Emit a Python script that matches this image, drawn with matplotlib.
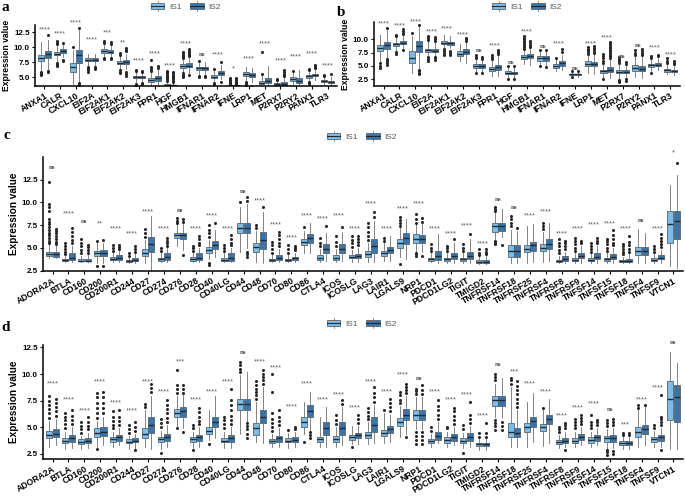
import numpy as np
import matplotlib
matplotlib.use('Agg')
import matplotlib.pyplot as plt
from matplotlib.legend_handler import HandlerBase
from matplotlib.patches import Rectangle, Patch
from matplotlib.lines import Line2D

plt.rcParams['font.family'] = ['Liberation Sans', 'DejaVu Sans']

genes_ab = ['ANXA1', 'CALR', 'CXCL10', 'EIF2A', 'EIF2AK1', 'EIF2AK2', 'EIF2AK3', 'FPR1', 'HGF',
            'HMGB1', 'IFNAR1', 'IFNAR2', 'IFNE', 'LRP1', 'MET', 'P2RX7', 'P2RY2', 'PANX1', 'TLR3']
genes_cd = ['ADORA2A', 'BTLA', 'CD160', 'CD200', 'CD200R1', 'CD244', 'CD27', 'CD274', 'CD276', 'CD28',
            'CD40', 'CD40LG', 'CD44', 'CD48', 'CD70', 'CD80', 'CD86', 'CTLA4', 'ICOS', 'ICOSLG',
            'LAG3', 'LAIR1', 'LGALS9', 'NRP1', 'PDCD1', 'PDCD1LG2', 'TIGIT', 'TMIGD2', 'TNFRSF14', 'TNFRSF18',
            'TNFRSF25', 'TNFRSF4', 'TNFRSF8', 'TNFRSF9', 'TNFSF14', 'TNFSF15', 'TNFSF18', 'TNFSF4', 'TNFSF9', 'VTCN1']

# box stats per gene: (lower whisker, q1, median, q3, upper whisker)
# ---- panel a ----
a_is1 = [(6.2, 7.6, 8.2, 8.7, 10.9), (7.6, 8.6, 8.9, 9.2, 10.3), (3.8, 5.9, 6.7, 7.4, 9.5),
         (6.9, 7.6, 7.9, 8.1, 8.9), (8.4, 9.0, 9.3, 9.6, 10.4), (6.4, 7.1, 7.4, 7.7, 8.5),
         (4.2, 4.8, 5.0, 5.25, 5.8), (3.6, 4.2, 4.5, 4.8, 5.7), (3.5, 3.65, 3.75, 3.85, 4.2),
         (5.8, 6.5, 6.8, 7.1, 7.9), (5.5, 6.2, 6.45, 6.7, 7.4), (4.2, 4.8, 5.0, 5.3, 6.0),
         (3.45, 3.5, 3.55, 3.6, 3.7), (4.5, 5.2, 5.5, 5.8, 6.6), (3.4, 3.8, 4.05, 4.4, 5.3),
         (3.4, 3.65, 3.8, 3.95, 4.3), (3.6, 4.4, 4.7, 5.0, 5.8), (4.4, 4.9, 5.1, 5.3, 5.9),
         (3.7, 4.1, 4.3, 4.5, 5.0)]
a_is2 = [(6.3, 8.1, 8.8, 9.3, 11.1), (8.3, 9.0, 9.3, 9.6, 10.5), (4.2, 7.3, 8.6, 9.5, 12.9),
         (7.0, 7.6, 7.85, 8.1, 8.9), (8.5, 9.0, 9.25, 9.5, 10.2), (6.3, 7.2, 7.5, 7.9, 8.9),
         (4.3, 4.8, 5.0, 5.2, 5.6), (3.6, 4.4, 4.8, 5.1, 6.3), (3.45, 3.55, 3.65, 3.75, 4.0),
         (5.7, 6.6, 6.9, 7.3, 8.3), (5.4, 6.2, 6.45, 6.7, 7.5), (4.6, 5.3, 5.6, 6.0, 7.0),
         (3.45, 3.5, 3.55, 3.6, 3.7), (4.1, 5.0, 5.3, 5.6, 6.5), (3.3, 4.0, 4.4, 4.9, 6.8),
         (3.4, 3.7, 3.9, 4.2, 4.8), (3.4, 4.0, 4.4, 4.8, 6.1), (4.5, 5.1, 5.3, 5.5, 6.2),
         (3.6, 4.0, 4.2, 4.4, 5.0)]
a_is1_out = [[5.3, 5.5, 5.7, 5.9], [6.8, 7.0, 7.2, 7.4, 10.5, 10.7, 11.0], [10.0],
             [5.9, 6.1, 6.3, 6.5, 6.7], [8.0, 8.2, 10.6, 10.8, 11.0], [5.7, 5.9, 6.1, 8.7, 9.0],
             [3.3, 3.5, 3.7, 3.9, 6.0, 6.2], [6.0, 6.3, 6.6, 7.8],
             [4.4, 4.6, 4.8, 5.0, 5.2, 5.4, 5.6, 5.8, 6.0],
             [5.0, 5.2, 5.4, 5.6, 8.1, 8.3, 8.5, 8.7, 9.0, 9.2], [5.0, 5.2, 7.6], [3.8, 4.0, 6.3],
             [3.85, 4.0, 4.15, 4.3, 4.45, 4.6, 4.75, 4.9], [3.6, 3.8, 4.0, 4.2], [5.5, 9.2],
             [4.5, 4.7], [6.0], [3.8, 4.0, 4.2, 6.1, 6.3], [5.2, 5.4]]
a_is2_out = [[5.8, 6.0, 12.0], [7.6, 7.9, 10.7], [3.3, 3.5, 3.7, 3.9, 4.05, 13.1],
             [6.3, 6.5, 6.7], [8.0, 8.2, 10.5, 10.8], [5.2, 5.5, 5.8, 9.3, 9.5, 9.8],
             [3.8, 4.0, 5.8, 6.0], [6.5, 6.8], [4.2, 4.4, 4.6, 4.8, 5.0, 5.2, 5.4, 5.6, 5.9],
             [5.3, 8.5, 8.7, 8.9, 9.1, 9.3, 9.6], [5.0, 5.2], [4.2, 7.5],
             [3.85, 4.0, 4.15, 4.3, 4.45, 4.6, 4.75, 4.9], [3.3], [],
             [5.1, 5.3, 5.5, 5.8, 6.2], [], [6.5, 6.7, 7.0], [5.5]]
a_sig = ['****', '****', '****', '****', '***', '**', '****', '****', '****', '****',
         'ns', '****', '*', '****', '****', '****', '****', '****', '****']
a_sig_y = [12.8, 12.2, 14.0, 11.2, 12.3, 10.7, 7.7, 8.9, 6.8, 10.5,
           8.8, 8.7, 6.3, 8.1, 10.5, 7.7, 8.3, 8.9, 6.8]

# ---- panel b ----
b_is1 = [(6.0, 7.7, 8.3, 8.9, 10.8), (7.9, 8.7, 9.0, 9.3, 10.3), (3.6, 5.6, 6.4, 7.7, 10.6),
         (6.8, 7.6, 7.9, 8.2, 9.6), (8.3, 9.0, 9.3, 9.6, 10.7), (5.9, 6.9, 7.3, 7.7, 9.0),
         (3.9, 4.65, 5.0, 5.3, 6.2), (3.2, 4.0, 4.4, 4.75, 5.9), (2.8, 3.4, 3.7, 4.0, 4.7),
         (5.3, 6.3, 6.7, 7.0, 8.0), (5.3, 6.0, 6.4, 6.8, 7.6), (4.1, 4.65, 5.0, 5.35, 6.2),
         (3.0, 3.35, 3.45, 3.55, 3.9), (3.6, 5.0, 5.4, 5.9, 7.0), (2.8, 3.7, 4.0, 4.3, 5.3),
         (2.6, 3.6, 3.9, 4.2, 5.2), (2.9, 4.1, 4.6, 5.1, 6.8), (4.0, 4.8, 5.1, 5.4, 6.2),
         (3.4, 3.9, 4.2, 4.5, 5.3)]
b_is2 = [(6.5, 8.2, 8.9, 9.4, 11.9), (8.4, 9.0, 9.35, 9.7, 10.6), (4.5, 7.6, 8.8, 9.6, 12.4),
         (6.9, 7.55, 7.85, 8.15, 9.4), (8.3, 8.95, 9.25, 9.55, 10.6), (5.6, 7.2, 7.6, 8.1, 9.4),
         (3.9, 4.7, 5.0, 5.3, 6.0), (3.1, 4.3, 4.8, 5.2, 6.9), (2.7, 3.4, 3.65, 3.95, 4.6),
         (5.2, 6.45, 6.85, 7.25, 8.3), (5.2, 6.0, 6.4, 6.8, 7.6), (4.2, 5.0, 5.5, 5.9, 7.1),
         (3.0, 3.35, 3.45, 3.55, 3.9), (3.5, 4.9, 5.3, 5.8, 7.2), (2.7, 3.8, 4.3, 4.8, 6.2),
         (2.7, 3.6, 3.9, 4.2, 5.1), (2.8, 4.0, 4.5, 5.0, 6.7), (4.2, 4.9, 5.25, 5.6, 6.5),
         (3.3, 3.8, 4.05, 4.3, 5.0)]
b_is1_out = [[4.6, 5.0, 5.5], [7.3, 7.6, 10.5, 10.8], [11.1], [6.0, 6.3, 6.6, 9.8, 10.2, 10.6],
             [7.0, 7.4, 7.8, 8.1], [], [3.7, 6.4, 6.7, 7.0], [6.2, 6.6, 7.0], [2.6, 5.0],
             [8.2, 8.5, 8.8, 9.1, 9.4, 9.7, 10.0, 10.3, 10.6], [4.9, 8.0], [6.4], [2.9, 4.1],
             [7.3, 7.6, 7.9, 8.2, 8.5], [2.5, 5.6, 6.0, 6.4, 6.8, 7.2],
             [2.0, 2.2, 2.4, 5.5, 5.9, 6.3, 6.7], [7.1, 7.5, 7.9], [3.7, 6.5, 6.8], [5.6, 6.0, 6.4]]
b_is2_out = [[5.2, 5.6, 6.0, 6.3, 12.1], [8.0, 10.9, 11.2, 11.5, 11.8], [3.4, 3.7, 4.0, 4.3, 12.6],
             [6.1, 6.4, 6.7, 9.7, 10.0, 10.4], [7.0, 7.4, 7.8], [9.7, 10.0, 10.3], [3.7, 6.3, 6.6],
             [7.3, 7.6, 8.0], [2.5, 4.9], [8.6, 8.9, 9.2, 9.6], [4.8, 8.0], [7.6, 8.1], [4.1],
             [7.5, 7.8, 8.1, 8.4, 8.7], [6.5, 6.8, 7.1, 7.4, 7.7, 8.0, 8.3, 8.6, 8.9, 9.2, 9.5],
             [2.2, 2.5, 5.4, 5.8], [7.0, 7.4, 7.8, 8.2], [6.8, 7.1], [5.3, 5.6, 6.0]]
b_sig = ['****', '****', '****', '****', '****', '****', 'ns', '****', 'ns', '****',
         'ns', '****', 'ns', '****', '****', 'ns', 'ns', '****', '****']
b_sig_y = [12.9, 12.5, 13.2, 11.4, 11.9, 10.8, 7.9, 8.8, 5.6, 11.3,
           8.6, 9.2, 4.5, 9.2, 10.3, 6.8, 8.8, 8.4, 7.0]

# ---- panel c ----
c_is1 = [(3.9, 4.1, 4.35, 4.6, 5.3), (3.5, 3.6, 3.7, 3.8, 4.1), (3.45, 3.55, 3.62, 3.75, 4.1),
         (3.3, 4.1, 4.45, 4.7, 5.5), (3.5, 3.65, 3.8, 4.0, 4.5), (3.4, 3.46, 3.55, 3.68, 3.9),
         (3.3, 4.1, 4.45, 4.9, 5.9), (3.5, 3.6, 3.78, 3.95, 4.4), (5.2, 6.05, 6.4, 6.7, 7.5),
         (3.5, 3.6, 3.8, 4.0, 4.5), (3.8, 4.45, 4.8, 5.1, 5.9), (3.45, 3.57, 3.7, 3.9, 4.4),
         (4.6, 6.6, 7.2, 7.8, 9.5), (3.5, 4.6, 5.1, 5.5, 6.9), (3.5, 3.57, 3.7, 3.83, 4.2),
         (3.5, 3.57, 3.68, 3.83, 4.2), (4.5, 5.3, 5.65, 6.0, 6.9), (3.5, 3.7, 3.95, 4.2, 4.9),
         (3.5, 3.7, 3.9, 4.2, 4.9), (3.5, 3.85, 4.0, 4.2, 4.8), (3.5, 4.0, 4.3, 4.7, 5.6),
         (3.6, 4.1, 4.4, 4.7, 5.5), (4.0, 5.0, 5.5, 6.0, 7.2), (4.7, 5.6, 6.0, 6.5, 7.6),
         (3.5, 3.6, 3.75, 3.9, 4.4), (3.4, 3.6, 3.75, 3.95, 4.4), (3.4, 3.6, 3.75, 3.9, 4.4),
         (3.25, 3.35, 3.45, 3.7, 4.0), (6.0, 6.8, 7.4, 7.8, 9.0), (3.4, 4.0, 4.7, 5.3, 7.0),
         (3.4, 4.6, 4.9, 5.3, 7.4), (3.5, 4.7, 5.0, 5.4, 6.8), (3.35, 3.45, 3.55, 3.7, 4.1),
         (3.4, 3.55, 3.7, 3.95, 4.4), (3.4, 3.6, 3.7, 3.9, 4.3), (3.4, 3.6, 3.75, 3.95, 4.4),
         (3.35, 3.45, 3.55, 3.7, 4.0), (3.3, 4.2, 4.7, 5.1, 7.1), (3.4, 3.6, 3.7, 3.9, 4.3),
         (3.0, 5.6, 7.6, 9.1, 11.9)]
c_is2 = [(3.9, 4.05, 4.3, 4.6, 5.2), (3.5, 3.7, 3.95, 4.4, 5.2), (3.45, 3.55, 3.62, 3.8, 4.2),
         (3.3, 4.1, 4.45, 4.75, 5.6), (3.5, 3.7, 3.9, 4.2, 4.7), (3.4, 3.55, 3.65, 3.95, 4.4),
         (2.6, 4.6, 5.45, 6.2, 8.5), (3.5, 3.7, 4.0, 4.4, 5.0), (4.8, 6.0, 6.4, 6.7, 7.6),
         (3.5, 3.65, 3.95, 4.4, 5.0), (4.0, 4.9, 5.35, 5.8, 7.0), (3.45, 3.6, 3.9, 4.4, 5.0),
         (5.0, 6.6, 7.2, 7.8, 9.8), (3.3, 4.9, 5.9, 6.8, 9.0), (3.5, 3.65, 3.9, 4.2, 4.9),
         (3.5, 3.65, 3.85, 4.05, 4.5), (4.5, 5.55, 6.1, 6.55, 7.8), (3.6, 4.4, 4.85, 5.45, 6.7),
         (3.6, 4.4, 4.85, 5.4, 6.8), (3.5, 3.9, 4.1, 4.35, 5.0), (3.5, 4.5, 5.2, 5.95, 8.0),
         (3.6, 4.4, 4.75, 5.1, 6.3), (3.8, 5.4, 6.1, 6.7, 8.2), (4.6, 5.5, 6.0, 6.4, 7.6),
         (3.4, 3.7, 4.1, 4.7, 6.5), (3.4, 3.8, 4.1, 4.5, 5.6), (3.4, 3.8, 4.1, 4.6, 6.0),
         (3.25, 3.35, 3.45, 3.7, 4.1), (6.2, 6.9, 7.4, 7.8, 9.3), (3.4, 4.0, 4.7, 5.3, 6.9),
         (3.5, 4.7, 5.3, 5.7, 7.6), (3.6, 4.9, 5.4, 6.0, 7.8), (3.4, 3.6, 3.8, 4.1, 4.6),
         (3.4, 3.9, 4.15, 4.45, 5.2), (3.4, 3.75, 4.0, 4.4, 5.2), (3.4, 3.8, 4.0, 4.3, 5.0),
         (3.35, 3.45, 3.6, 3.8, 4.3), (3.3, 4.2, 4.7, 5.1, 6.7), (3.4, 3.75, 3.95, 4.2, 4.8),
         (2.8, 6.0, 8.0, 9.1, 13.0)]
c_is1_out = [[5.5, 5.8, 6.1, 6.4, 6.7, 7.0, 7.3, 7.6, 7.9, 8.2, 9.1, 9.5, 9.8, 12.2],
             [4.3, 4.6, 4.9, 5.2, 5.5], [4.4, 4.8, 5.2, 5.6, 6.0], [3.0, 5.8], [4.7, 5.0, 5.3],
             [4.1, 4.4], [6.2, 6.6, 7.1], [4.7, 5.0], [7.7, 8.0, 8.3], [4.7, 5.0, 5.2],
             [3.1, 3.4, 6.2, 6.6, 7.0, 7.5], [4.7, 5.0, 5.3], [10.0], [7.2, 7.5],
             [4.5, 4.9, 5.3, 5.7], [4.5, 4.9, 5.3], [7.3], [5.2, 5.6, 6.1], [5.2, 5.7, 6.3],
             [5.1, 5.5, 5.9, 6.3], [5.9, 6.3, 6.8, 7.3, 7.8], [5.8, 6.1], [3.2, 7.4, 7.8, 8.1, 8.4],
             [4.1, 4.3, 4.5, 7.8, 8.2, 8.7], [4.7, 5.0, 5.4], [4.7, 5.0, 5.2], [4.7, 5.0, 5.4],
             [4.2, 4.5, 4.85], [5.4, 5.6, 5.8, 9.1, 9.3, 9.5], [7.4, 7.8, 8.2, 8.5], [],
             [7.1, 7.4, 7.8], [4.4, 4.8, 5.2, 5.6, 5.96], [4.7, 5.0, 5.4, 5.8, 6.1],
             [4.6, 4.9, 5.2, 5.6], [4.7, 5.0, 5.4, 5.8, 6.0], [4.3, 4.6, 4.9, 5.2, 5.4], [],
             [4.6, 4.9, 5.2], []]
c_is2_out = [[5.4, 5.7, 6.0, 6.3, 6.6, 6.9, 7.1], [5.5, 5.9, 6.3, 6.8, 7.2], [4.5, 4.8, 5.1, 5.3],
             [3.0, 5.9], [4.9, 5.1, 5.3], [4.6, 4.9, 5.2], [], [5.2, 5.5, 5.8, 6.1], [4.2, 7.9, 8.2],
             [5.3, 5.6, 6.0, 6.3], [7.7], [5.3, 5.6, 6.0, 6.4], [4.0, 4.3, 4.6, 10.2, 10.6], [9.5],
             [5.2, 5.6, 6.0, 6.4, 6.8], [4.8, 5.0, 5.2], [], [7.4], [7.3], [5.3, 5.7, 6.0, 6.3],
             [8.4, 8.9], [], [], [4.1, 7.9, 8.3], [], [6.0], [6.5], [4.3, 4.6, 4.9], [5.3], [7.25],
             [], [], [4.9, 5.2, 5.5, 5.8], [5.5, 5.8], [5.5, 5.8, 6.1], [5.3, 5.6, 6.0, 6.4, 7.0],
             [4.6, 4.9, 5.3, 5.7, 6.3], [], [5.1, 5.4, 5.8, 6.1, 6.5], [14.3]]
c_sig = ['ns', '****', 'ns', '**', '****', '****', '****', '****', 'ns', '****',
         '****', '****', 'ns', '****', '****', '****', '****', '****', '****', '****',
         '****', '****', '****', '****', '****', '****', '****', '****', 'ns', 'ns',
         '****', '****', '****', '****', '****', '****', '****', 'ns', '****', '*']
c_sig_y = [13.8, 8.7, 7.9, 7.6, 7.1, 6.6, 9.0, 7.1, 9.1, 7.1,
           8.5, 7.1, 11.2, 10.2, 7.5, 6.1, 8.5, 8.2, 8.5, 7.1,
           9.8, 7.1, 9.3, 9.8, 7.1, 6.6, 7.4, 5.4, 10.3, 9.5,
           8.5, 9.0, 6.6, 7.1, 7.5, 7.7, 7.1, 8.0, 7.1, 15.4]

# ---- panel d ----
d_is1 = [(3.2, 4.0, 4.3, 4.7, 5.6), (3.0, 3.5, 3.75, 3.97, 4.6), (3.0, 3.45, 3.65, 3.9, 4.2),
         (3.2, 4.1, 4.5, 4.9, 5.6), (3.2, 3.66, 3.9, 4.1, 4.6), (3.0, 3.5, 3.66, 3.9, 4.2),
         (3.2, 3.97, 4.4, 4.9, 6.6), (3.0, 3.66, 3.9, 4.1, 4.7), (5.1, 6.0, 6.3, 6.7, 7.9),
         (3.1, 3.66, 3.9, 4.05, 4.6), (3.8, 4.4, 4.7, 5.0, 6.6), (3.1, 3.6, 3.75, 4.0, 4.6),
         (4.4, 6.6, 7.2, 7.7, 9.9), (3.66, 4.3, 4.9, 5.4, 7.4), (3.2, 3.57, 3.75, 3.9, 4.4),
         (3.1, 3.6, 3.75, 4.0, 4.5), (4.4, 5.06, 5.5, 6.0, 7.4), (3.2, 3.66, 3.9, 4.1, 6.0),
         (3.2, 3.66, 3.9, 4.2, 5.0), (3.4, 3.8, 4.05, 4.3, 5.1), (3.4, 4.0, 4.3, 4.6, 5.5),
         (3.5, 4.2, 4.5, 4.75, 6.3), (4.1, 5.1, 5.5, 5.84, 7.0), (4.8, 5.7, 6.15, 6.6, 7.8),
         (3.2, 3.5, 3.7, 3.9, 4.4), (3.2, 3.57, 3.8, 4.05, 4.6), (3.1, 3.5, 3.75, 4.0, 4.5),
         (2.9, 3.25, 3.4, 3.57, 3.9), (6.0, 7.0, 7.55, 7.9, 9.1), (3.2, 4.05, 4.6, 5.4, 8.8),
         (3.2, 4.6, 5.0, 5.4, 7.4), (3.25, 4.7, 5.0, 5.3, 6.6), (3.1, 3.45, 3.63, 3.8, 4.3),
         (3.2, 3.57, 3.75, 4.0, 4.6), (3.2, 3.57, 3.8, 4.05, 4.6), (3.1, 3.66, 4.0, 4.2, 4.8),
         (3.0, 3.35, 3.57, 3.75, 4.1), (3.2, 4.1, 4.6, 5.06, 6.6), (3.2, 3.66, 3.9, 4.1, 4.7),
         (3.0, 5.7, 7.7, 9.3, 12.1)]
d_is2 = [(3.3, 4.05, 4.4, 4.8, 5.8), (3.1, 3.66, 4.0, 4.3, 5.0), (3.1, 3.5, 3.75, 4.0, 4.5),
         (3.3, 4.2, 4.6, 5.06, 6.0), (3.3, 3.75, 4.05, 4.3, 4.9), (3.0, 3.6, 3.75, 4.0, 4.4),
         (3.0, 4.45, 5.2, 6.0, 7.9), (3.2, 3.75, 4.05, 4.4, 5.2), (4.9, 6.0, 6.5, 6.9, 8.0),
         (3.2, 3.75, 4.05, 4.3, 5.0), (4.0, 5.06, 5.5, 6.0, 7.9), (3.1, 3.66, 4.0, 4.3, 5.0),
         (5.5, 6.6, 7.2, 7.7, 10.2), (3.5, 5.4, 6.0, 6.6, 8.8), (3.2, 3.66, 4.0, 4.2, 4.9),
         (3.2, 3.66, 3.85, 4.1, 4.6), (4.75, 6.0, 6.55, 7.1, 8.3), (3.2, 4.3, 4.9, 5.5, 6.9),
         (3.3, 4.3, 4.9, 5.5, 6.9), (3.4, 3.97, 4.25, 4.5, 5.1), (3.5, 4.6, 5.2, 6.0, 7.1),
         (3.6, 4.45, 4.8, 5.1, 6.2), (4.4, 5.7, 6.15, 6.7, 7.9), (4.8, 5.7, 6.15, 6.6, 7.8),
         (3.5, 3.8, 4.2, 4.6, 5.5), (3.3, 3.75, 4.05, 4.4, 5.0), (3.2, 3.75, 4.1, 4.45, 5.1),
         (2.9, 3.25, 3.45, 3.57, 3.9), (6.0, 7.0, 7.55, 7.9, 9.6), (3.2, 4.1, 4.5, 4.9, 6.6),
         (3.66, 5.06, 5.6, 6.0, 8.2), (3.5, 5.3, 5.8, 6.15, 7.7), (3.2, 3.5, 3.75, 4.0, 4.6),
         (3.3, 3.8, 4.1, 4.4, 5.0), (3.3, 3.75, 4.05, 4.3, 4.9), (3.1, 3.66, 4.0, 4.3, 4.9),
         (3.0, 3.35, 3.57, 3.75, 4.1), (3.3, 4.4, 4.8, 5.2, 6.9), (3.2, 3.75, 4.05, 4.3, 4.9),
         (3.0, 5.5, 7.8, 9.0, 11.0)]
d_is1_out = [[5.9, 6.3, 6.7, 7.1, 7.5, 7.9], [4.9, 5.3, 5.7, 6.0, 6.3], [4.5, 4.8, 5.1, 5.5],
             [3.0, 5.9, 6.3, 6.8, 7.3, 7.8, 8.2], [4.9, 5.2, 5.6, 6.0, 6.5], [4.5, 4.8, 5.2],
             [6.9, 7.2], [2.6, 5.0, 5.4, 5.8], [4.9, 8.2, 8.6, 9.0, 10.4], [2.9, 4.9, 5.2], [3.45],
             [4.9, 5.3, 5.7, 6.0], [10.2, 10.5, 10.8, 11.1], [7.7, 8.0, 8.3, 8.6, 9.0, 9.3],
             [4.7, 5.0, 5.4, 5.8, 6.3, 8.3, 10.0], [4.75], [3.6], [], [5.3, 5.7, 6.15], [3.2],
             [5.8, 6.1, 6.4, 6.8], [6.6], [7.3, 7.6, 8.0, 8.3], [3.45, 3.8, 4.2, 4.6, 8.1, 8.4, 8.6],
             [4.7, 5.06], [4.9, 5.06], [2.6, 4.8, 5.2], [4.1, 4.45],
             [4.75, 5.1, 5.4, 5.7, 9.4, 9.7, 10.0], [9.1, 9.4, 9.6], [], [6.8], [4.6, 4.85, 5.06],
             [4.9, 5.2, 5.5, 5.8], [4.9, 5.2, 5.5, 6.15], [2.4, 2.7, 2.9, 5.1, 5.4, 5.7], [4.3, 4.45],
             [6.8, 7.1], [4.9, 5.2], []]
d_is2_out = [[6.1, 6.5, 6.9, 7.3, 7.7], [5.3, 5.7, 6.1, 6.6], [4.8, 5.1, 5.5, 6.0],
             [6.3, 6.8, 7.3, 7.8, 8.3], [5.2, 5.6, 6.0, 6.6], [2.9, 4.7, 5.0, 5.5], [8.3, 8.7, 9.1],
             [5.5, 5.9, 6.3, 6.7, 7.1, 7.55], [4.6, 8.2, 8.6, 8.95], [5.3, 5.6, 6.0, 6.4, 6.8], [],
             [5.3, 5.7, 6.1, 6.6, 7.1, 7.6, 8.6], [4.0, 4.4, 4.8, 5.1, 5.4], [9.1, 9.4, 9.7, 10.0, 10.4],
             [5.2, 5.6, 6.0, 6.6], [4.8, 5.06], [4.0, 4.3, 4.6], [], [7.2, 7.55], [5.4, 5.8, 6.15],
             [7.4, 7.8, 8.2, 8.8], [6.5, 6.9, 7.3, 7.7], [4.1, 8.2, 8.5, 8.8, 9.1],
             [3.45, 3.8, 4.2, 4.6, 8.1, 8.5, 8.95], [5.8, 6.2, 6.6, 7.0, 7.55],
             [5.3, 5.7, 6.1, 6.5, 6.8], [5.4, 5.8, 6.2, 7.4], [4.1, 4.45, 5.4], [4.75, 5.1, 5.5],
             [6.9, 7.3, 7.7, 8.1, 8.5, 8.9, 9.3], [], [], [2.9, 4.9, 5.2, 5.4], [5.3, 5.6, 5.9, 6.15],
             [5.2, 5.5, 5.7], [2.5, 2.8, 5.2, 5.5, 5.8], [4.3, 4.5], [7.1],
             [2.9, 5.2, 5.5, 5.8, 6.0, 8.0], []]
d_sig = ['****', '****', '****', '****', '****', '****', '****', '****', '***', '****',
         '****', '****', 'ns', '****', '****', '****', '****', '****', '****', '****',
         '****', '****', '****', 'ns', '****', '****', '****', '****', 'ns', '***',
         '****', '****', '****', '****', '****', 'ns', '***', '****', '****', 'ns']
d_sig_y = [9.05, 7.6, 6.55, 9.3, 7.25, 6.55, 9.3, 8.3, 11.1, 7.6,
           8.3, 9.3, 12.0, 11.1, 10.6, 6.9, 9.05, 7.6, 8.0, 6.8,
           9.3, 8.3, 9.95, 9.6, 8.3, 7.6, 8.0, 6.05, 10.9, 10.2,
           9.05, 8.3, 6.05, 6.8, 7.2, 6.7, 5.2, 7.6, 8.7, 13.0]

col_is1 = '#79BDE8'
col_is2 = '#3A74A8'
edge_col = '#59636b'
med_col = '#1c2a36'
dot_col = '#262626'
W, H = 685, 498


class BoxHandler(HandlerBase):
    def create_artists(self, legend, orig_handle, xd, yd, width, height, fontsize, trans):
        fc = orig_handle.get_facecolor()
        r = Rectangle((xd, yd), width, height, facecolor=fc, edgecolor=edge_col, lw=0.6, transform=trans)
        m = Line2D([xd, xd + width], [yd + height / 2] * 2, color=med_col, lw=0.8, transform=trans)
        w1 = Line2D([xd + width / 2] * 2, [yd + height, yd + height * 1.35], color=edge_col, lw=0.5, transform=trans)
        w2 = Line2D([xd + width / 2] * 2, [yd, yd - height * 0.35], color=edge_col, lw=0.5, transform=trans)
        return [w1, w2, r, m]


def px_axes(fig, left, top, right, bottom):
    return fig.add_axes([left / W, 1 - bottom / H, (right - left) / W, (bottom - top) / H])


def draw_panel(ax, genes, box1, box2, out1, out2, sig, sig_y, ylim, yticks, ylab_size):
    x = np.arange(len(genes))
    for boxes, outs, shift, col in ((box1, out1, -0.2, col_is1), (box2, out2, 0.2, col_is2)):
        stats = [dict(whislo=b[0], q1=b[1], med=b[2], q3=b[3], whishi=b[4], fliers=o)
                 for b, o in zip(boxes, outs)]
        ax.bxp(stats, positions=x + shift, widths=0.38, patch_artist=True, showcaps=False,
               manage_ticks=False,
               boxprops=dict(facecolor=col, edgecolor=edge_col, linewidth=0.6),
               medianprops=dict(color=med_col, linewidth=1.0),
               whiskerprops=dict(color='#6e6e6e', linewidth=0.6),
               flierprops=dict(marker='o', markersize=2.2, markerfacecolor=dot_col,
                               markeredgecolor='none'))
    for i in range(len(genes)):
        if sig[i] == 'ns':
            ax.text(x[i], sig_y[i], 'ns', ha='center', va='center', fontsize=5,
                    family='Liberation Serif', fontweight='bold', color='#555555', clip_on=False)
        else:
            ax.text(x[i], sig_y[i], sig[i], ha='center', va='center', fontsize=5.3,
                    color='#606060', clip_on=False)
    ax.set_xlim(-0.6, len(genes) - 0.4)
    ax.set_ylim(*ylim)
    ax.set_yticks(yticks)
    ax.set_yticklabels([f'{t:.1f}' for t in yticks], fontsize=5.8, fontweight='bold')
    ax.set_xticks(x)
    ax.set_xticklabels(genes, rotation=30, ha='right', rotation_mode='anchor',
                       fontsize=6.2, fontweight='bold')
    for s in ('top', 'right'):
        ax.spines[s].set_visible(False)
    for s in ('left', 'bottom'):
        ax.spines[s].set_linewidth(1.1)
    ax.tick_params(length=2.2, width=0.8, pad=1.5, colors='black')
    ax.set_ylabel('Expression value', fontsize=ylab_size, fontweight='bold', labelpad=2)


def add_legend(fig, cx, cy):
    handles = [Patch(facecolor=col_is1), Patch(facecolor=col_is2)]
    leg = fig.legend(handles, ['IS1', 'IS2'], loc='center', bbox_to_anchor=(cx / W, 1 - cy / H),
                     ncol=2, frameon=False, fontsize=6, handlelength=1.6, handleheight=0.7,
                     handletextpad=0.6, columnspacing=1.0, borderpad=0,
                     handler_map={Patch: BoxHandler()})
    for t in leg.get_texts():
        t.set_color('#555555')


fig = plt.figure(figsize=(W / 100, H / 100), dpi=100)

ax_a = px_axes(fig, 35, 25, 337, 86)
draw_panel(ax_a, genes_ab, a_is1, a_is2, a_is1_out, a_is2_out, a_sig, a_sig_y,
           (3.5, 13.67), [5.0, 7.5, 10.0, 12.5], 6.2)
ax_b = px_axes(fig, 374, 22, 680, 86)
draw_panel(ax_b, genes_ab, b_is1, b_is2, b_is1_out, b_is2_out, b_sig, b_sig_y,
           (1.25, 13.2), [2.5, 5.0, 7.5, 10.0], 6.2)
ax_c = px_axes(fig, 43, 157, 683, 271)
draw_panel(ax_c, genes_cd, c_is1, c_is2, c_is1_out, c_is2_out, c_sig, c_sig_y,
           (2.47, 15.0), [2.5, 5.0, 7.5, 10.0, 12.5], 7.2)
ax_d = px_axes(fig, 43, 345, 683, 459)
draw_panel(ax_d, genes_cd, d_is1, d_is2, d_is1_out, d_is2_out, d_sig, d_sig_y,
           (2.03, 12.72), [2.5, 5.0, 7.5, 10.0, 12.5], 7.2)

add_legend(fig, 186, 7)
add_legend(fig, 527, 7)
add_legend(fig, 362, 137)
add_legend(fig, 362, 324)

for lab, x0, y0 in (('a', 2, 1), ('b', 337, 6), ('c', 3, 129), ('d', 1, 321)):
    fig.text(x0 / W, 1 - y0 / H, lab, fontsize=11, fontweight='bold', family='Liberation Serif',
             va='top', ha='left')

fig.savefig('out.png', dpi=100)
